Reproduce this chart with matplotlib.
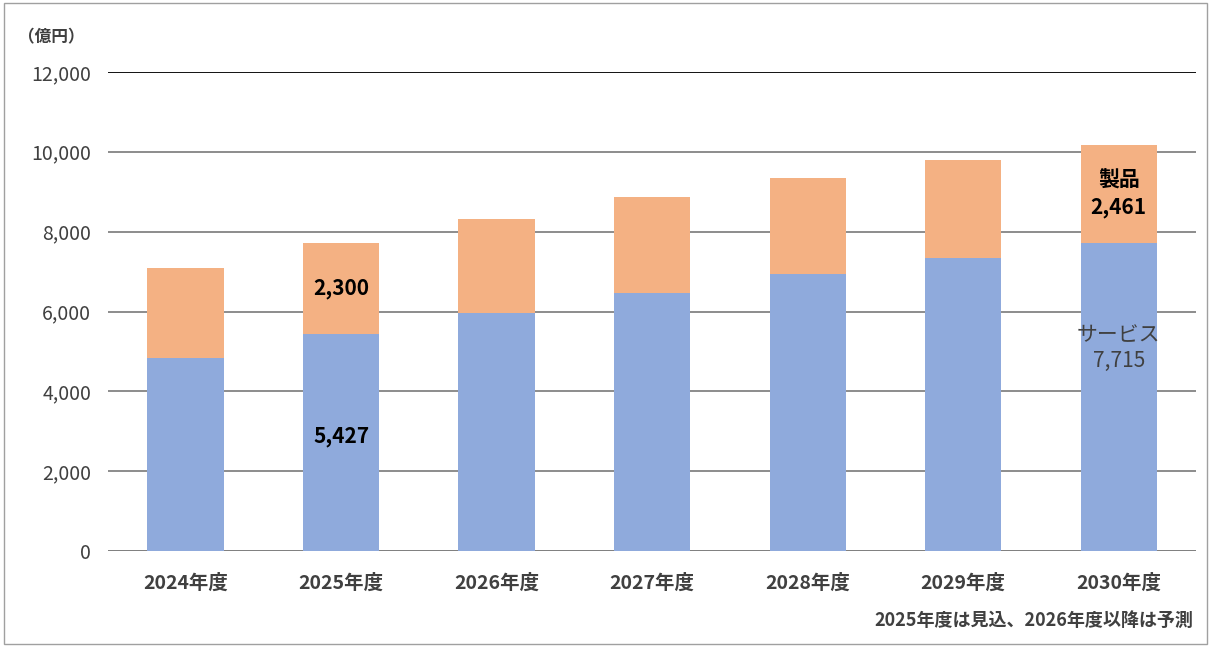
import matplotlib.pyplot as plt
import numpy as np
from matplotlib.patches import Rectangle

plt.rcParams['font.family'] = ['Noto Sans CJK JP', 'DejaVu Sans']

years = ["2024年度", "2025年度", "2026年度", "2027年度", "2028年度", "2029年度", "2030年度"]
service = [4840, 5427, 5965, 6465, 6940, 7340, 7715]
product = [2250, 2300, 2355, 2405, 2410, 2460, 2461]

C_SV = "#8FAADC"
C_PR = "#F4B183"

fig = plt.figure(figsize=(12.11, 6.47), dpi=100)
ax = fig.add_axes([0.089, 0.148, 0.899, 0.741])
fig.patches.append(Rectangle((0.003, 0.005), 0.994, 0.99, transform=fig.transFigure,
                             fill=False, edgecolor="#A0A0A0", linewidth=1))

x = np.arange(len(years))
ax.bar(x, service, 0.49, color=C_SV, zorder=3)
ax.bar(x, product, 0.49, bottom=service, color=C_PR, zorder=3)

ax.set_ylim(0, 12000)
ax.set_xlim(-0.5, len(years) - 0.5)
ax.set_yticks(range(0, 12001, 2000))
ax.set_yticklabels([f"{v:,}" for v in range(0, 12001, 2000)], fontsize=14, color="#404040")
ax.set_xticks(x)
ax.set_xticklabels(years, fontsize=14, fontweight="bold", color="#404040")
ax.tick_params(axis="x", length=0, pad=16)
ax.tick_params(axis="y", length=0, pad=12)
ax.grid(axis="y", color="#6E6E6E", linewidth=1.1, zorder=0)
ax.axhline(12000, color="black", linewidth=1.2)
ax.axhline(0, color="#808080", linewidth=1.3)
for s in ax.spines.values():
    s.set_visible(False)

# annotations
ax.text(1, service[1] + product[1] / 2, f"{product[1]:,}", ha="center", va="center",
        fontsize=15, fontweight="bold")
ax.text(1, 2860, f"{service[1]:,}", ha="center", va="center",
        fontsize=15, fontweight="bold")
ax.text(6, service[6] + product[6] / 2, f"製品\n{product[6]:,}", ha="center", va="center",
        fontsize=15, fontweight="bold", linespacing=1.3)
ax.text(6, 5090, f"サービス\n{service[6]:,}", ha="center", va="center",
        fontsize=15, color="#404040", linespacing=1.2)

fig.text(0.015, 0.935, "（億円）", fontsize=12, fontweight="bold", color="#404040")
fig.text(0.985, 0.032, "2025年度は見込、2026年度以降は予測", ha="right", fontsize=13,
         fontweight="bold", color="#404040")

fig.savefig("out.png", dpi=100)
